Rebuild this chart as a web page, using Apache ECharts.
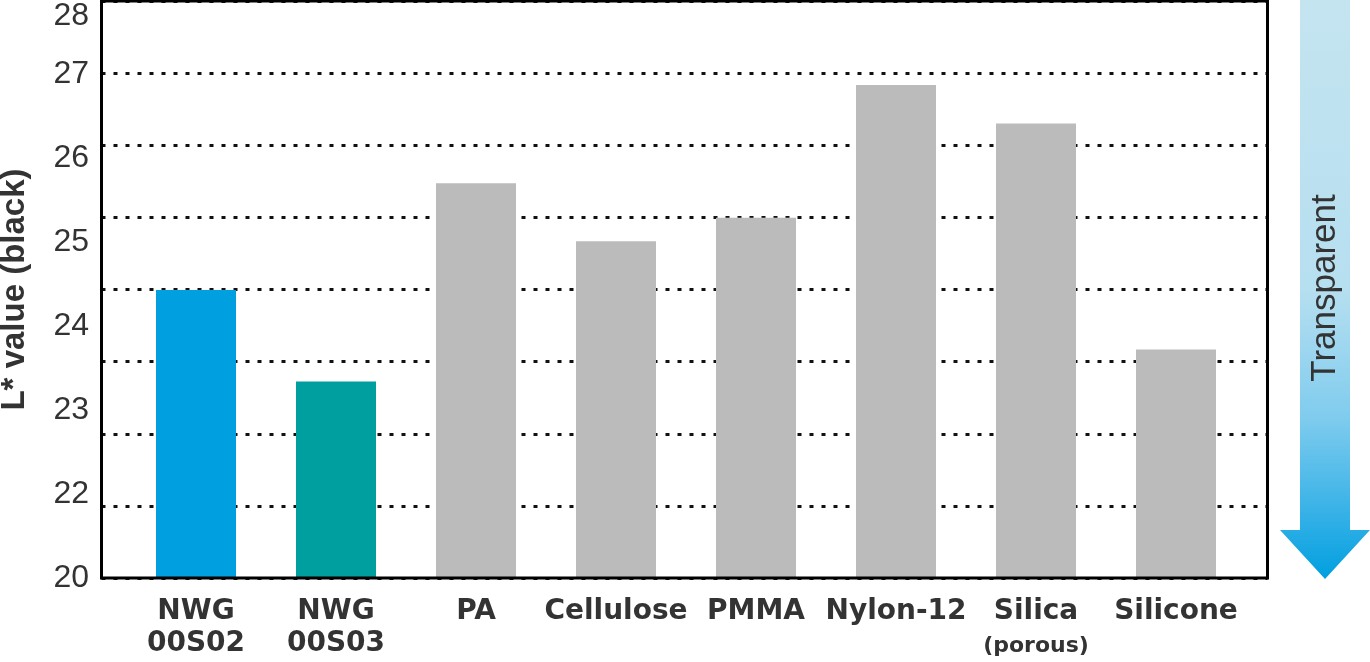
<!DOCTYPE html>
<html><head><meta charset="utf-8">
<script src="https://cdn.jsdelivr.net/npm/echarts@6/dist/echarts.min.js"></script>
<style>html,body{margin:0;padding:0;background:#fff}#c{width:1370px;height:662px}</style>
</head><body><div id="c"></div>
<script>
// ---- data ----
const categories = ['NWG\n00S02', 'NWG\n00S03', 'PA', 'Cellulose', 'PMMA', 'Nylon-12', 'Silica\n(porous)', 'Silicone'];
const lValues = [24.43, 23.34, 25.70, 25.01, 25.29, 26.87, 26.41, 23.72];
const barColors = ['#009fe0', '#009f9f', '#bbbbbb', '#bbbbbb', '#bbbbbb', '#bbbbbb', '#bbbbbb', '#bbbbbb'];
// value scale of the bars (bottom of the frame drawn as "20", i.e. broken axis)
const valueMin = 21, valueMax = 27.87, valueStep = 1;
const yTickLabels = ['20', '22', '23', '24', '25', '26', '27', '28'];
// decorative dotted grid of the frame
const gridMin = 20, gridMax = 28, gridStep = 1;
const yName = 'L* value (black)';
const arrowText = 'Transparent';

const chart = echarts.init(document.getElementById('c'), null, {renderer: 'canvas'});
const txt = '#333333';
chart.setOption({
  animation: false,
  backgroundColor: '#ffffff',
  grid: [
    {left: 101.5, top: 1, width: 1166, height: 577, show: true, borderColor: '#000', borderWidth: 3,
     backgroundColor: 'transparent', z: 5, containLabel: false, outerBoundsMode: 'none'},
    {left: 126, top: 1, width: 1120, height: 577, containLabel: false, outerBoundsMode: 'none'}
  ],
  xAxis: [
    {gridIndex: 0, type: 'value', min: 0, max: 1, show: false},
    {gridIndex: 1, type: 'category', data: categories,
     axisLine: {show: false}, axisTick: {show: false},
     axisLabel: {
       interval: 0, hideOverlap: false,
       margin: 18, color: txt, fontSize: 28, fontWeight: 'bold', fontFamily: 'DejaVu Sans', lineHeight: 32,
       formatter: v => v.replace(/\((.+)\)/, '{s|($1)}'),
       rich: {s: {fontSize: 22, fontWeight: 'bold', fontFamily: 'DejaVu Sans', color: txt, lineHeight: 36}}
     }}
  ],
  yAxis: [
    {gridIndex: 0, type: 'value', min: gridMin, max: gridMax, interval: gridStep,
     name: yName, nameLocation: 'middle', nameGap: 70,
     nameTextStyle: {fontSize: 33, fontWeight: 'bold', fontFamily: 'Liberation Sans', color: txt},
     axisLine: {show: false}, axisTick: {show: false}, axisLabel: {show: false},
     splitLine: {show: true, lineStyle: {color: '#111', width: 3, type: [4, 8]}}},
    {gridIndex: 1, type: 'value', min: valueMin, max: valueMax, interval: valueStep,
     axisLine: {show: false}, axisTick: {show: false}, splitLine: {show: false},
     axisLabel: {
       margin: 37, color: txt, fontSize: 32, fontFamily: 'Liberation Sans',
       showMinLabel: true, showMaxLabel: true,
       formatter: (v, i) => i === yTickLabels.length - 1 ? '{t|' + yTickLabels[i] + '}' : yTickLabels[i],
       rich: {t: {fontSize: 32, fontFamily: 'Liberation Sans', color: txt, padding: [30, 0, 0, 0]}}
     }}
  ],
  series: [{
    type: 'bar', xAxisIndex: 1, yAxisIndex: 1, barWidth: 80, silent: true,
    data: lValues.map((v, i) => ({value: v, itemStyle: {color: barColors[i]}}))
  }],
  graphic: [
    {type: 'polygon', z: 1,
     shape: {points: [[1300, 0], [1350, 0], [1350, 530], [1370, 530], [1325, 579], [1280, 530], [1300, 530]]},
     style: {fill: new echarts.graphic.LinearGradient(0, 0, 0, 1, [
       {offset: 0, color: '#c4e4f0'}, {offset: 0.5, color: '#b6dff0'}, {offset: 0.72, color: '#80ccee'},
       {offset: 0.9, color: '#30afe6'}, {offset: 1, color: '#009fe0'}])}},
    {type: 'text', z: 2, x: 1325, y: 288, rotation: Math.PI / 2,
     style: {text: arrowText, fill: txt, fontSize: 35, fontFamily: 'Liberation Sans', align: 'center', verticalAlign: 'middle'}}
  ]
});
</script></body></html>
